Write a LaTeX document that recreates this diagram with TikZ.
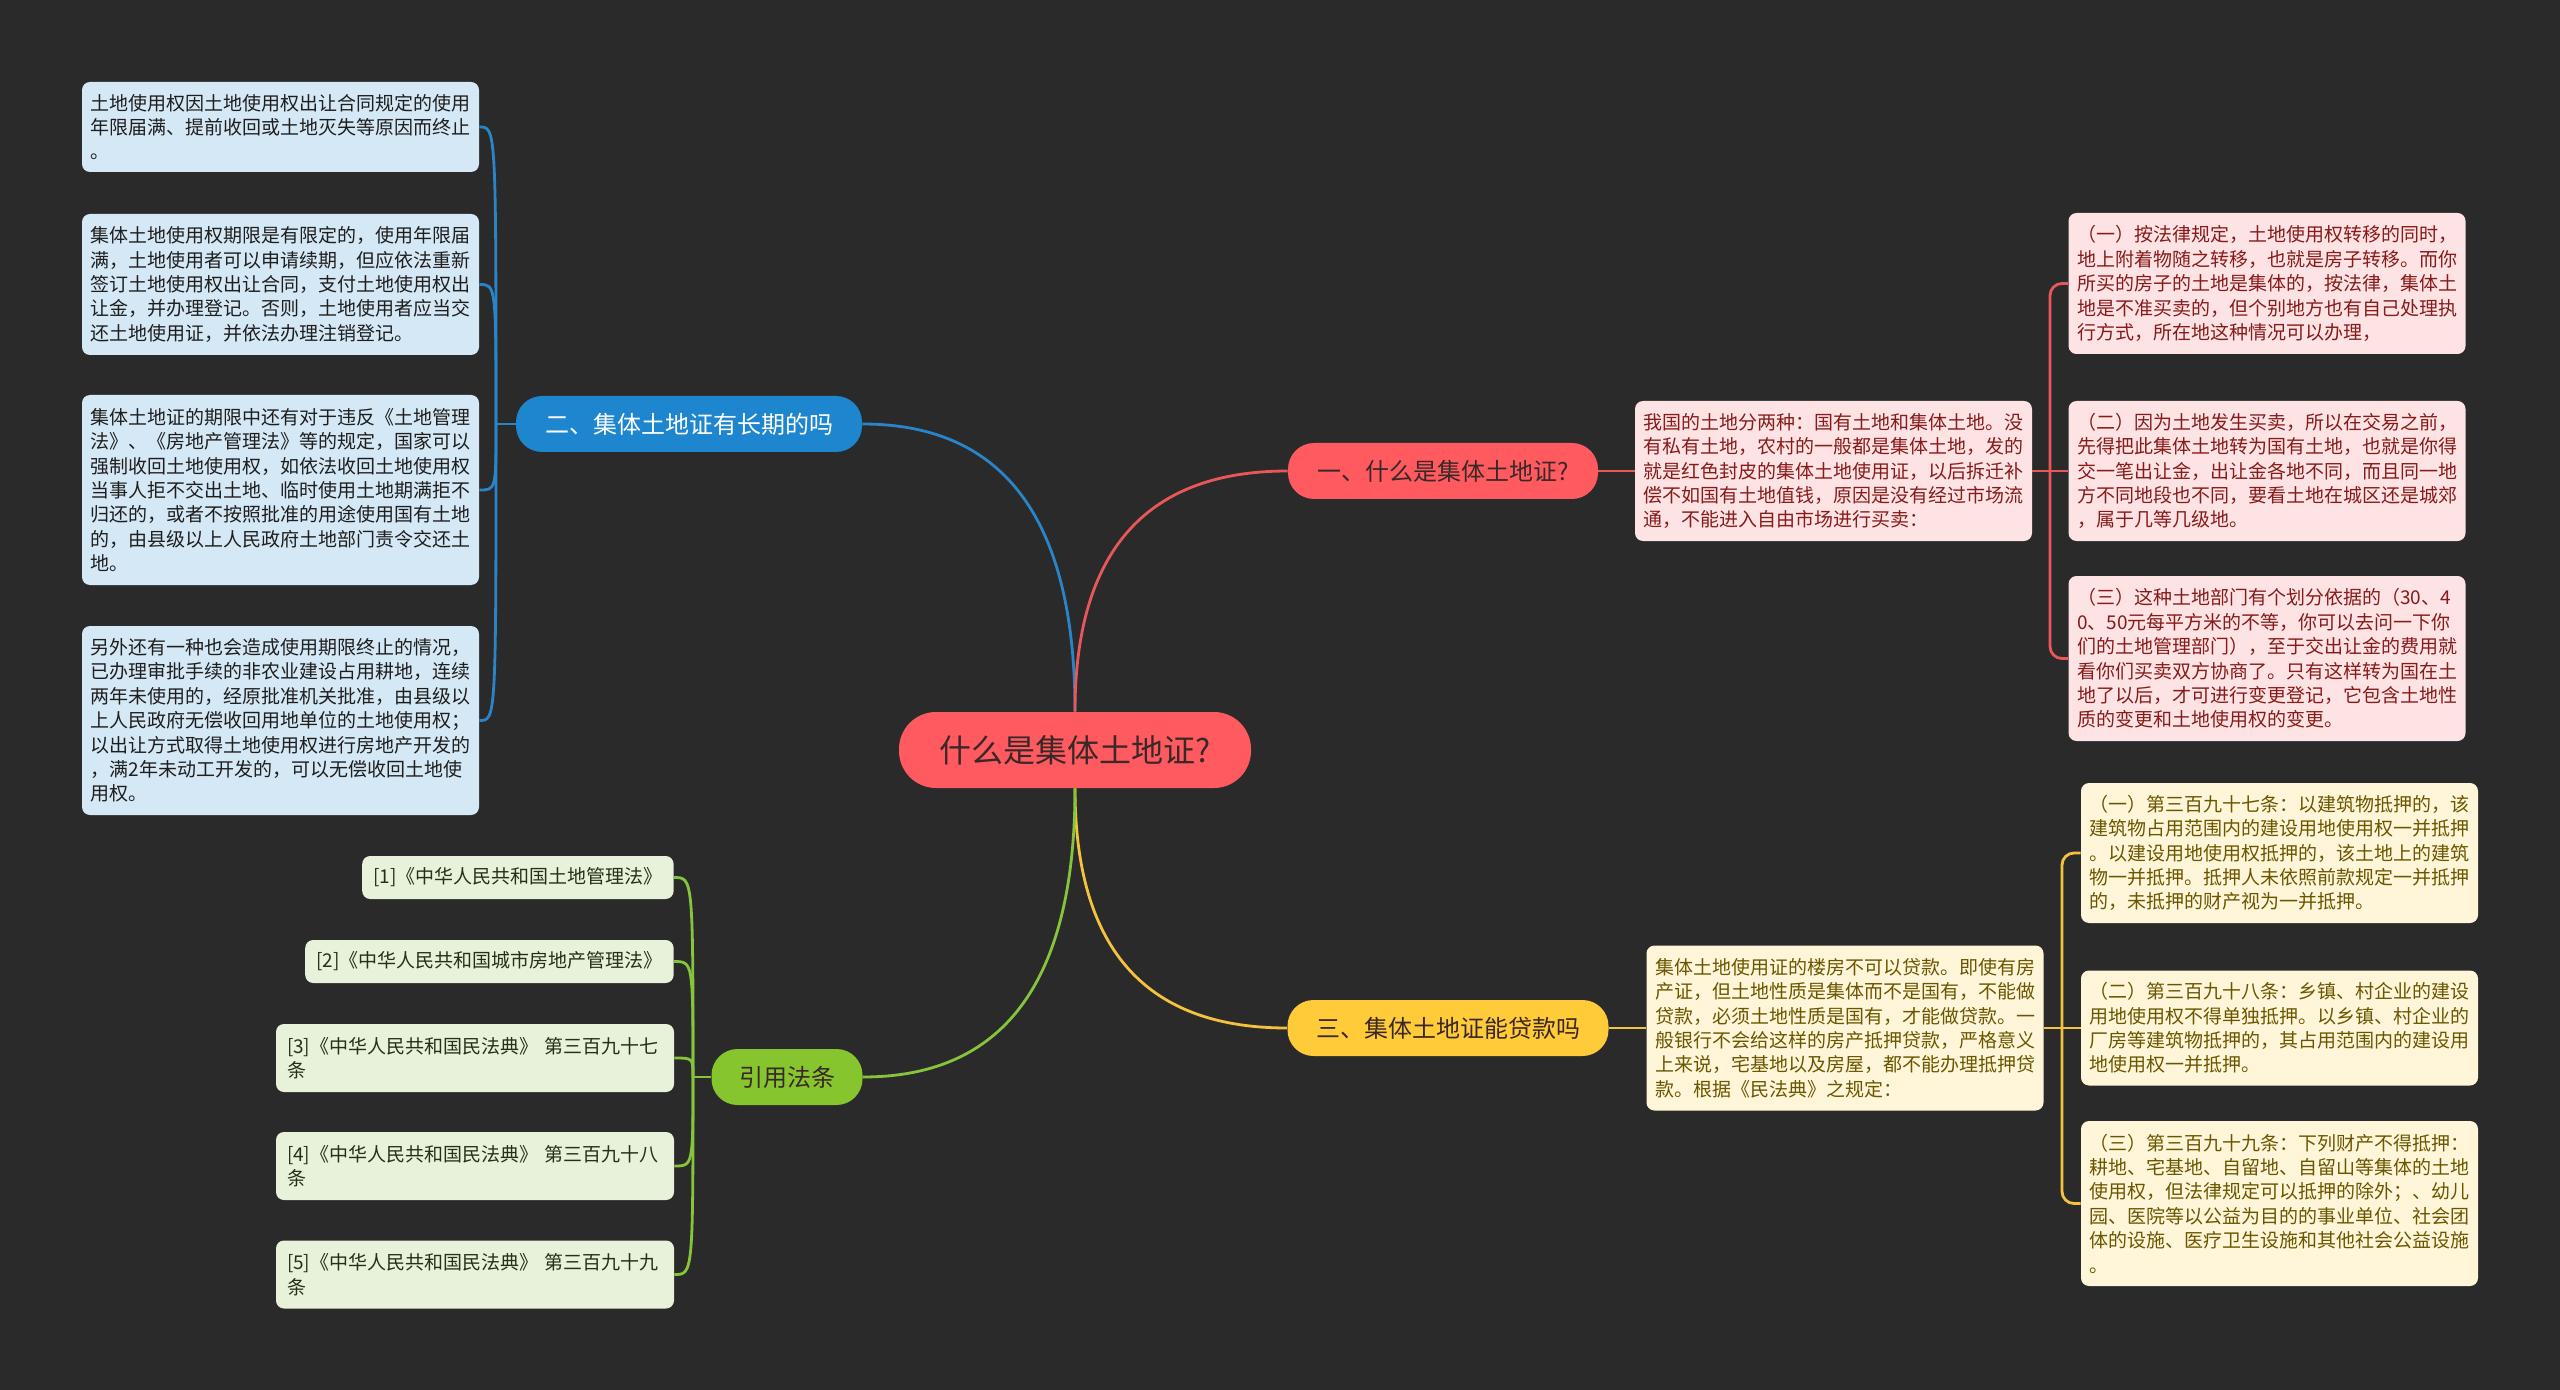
\documentclass[tikz,border=0pt]{standalone}
\usepackage{fontspec}
\setmainfont{Noto Sans CJK SC}
\usepackage{tikz}
\usepackage{xcolor}
\definecolor{bgcol}{HTML}{2A2A2A}
\definecolor{mainred}{HTML}{FF5A5F}
\definecolor{darktext}{HTML}{3A2828}
\definecolor{bluenode}{HTML}{1E86CF}
\definecolor{yellownode}{HTML}{FFCB38}
\definecolor{greennode}{HTML}{86C52E}
\definecolor{bluefill}{HTML}{D5E8F5}
\definecolor{bluetext}{HTML}{1E1E1E}
\definecolor{redfill}{HTML}{FDE3E3}
\definecolor{redtext}{HTML}{871B1B}
\definecolor{yellowfill}{HTML}{FFF6D9}
\definecolor{yellowtext}{HTML}{6B5600}
\definecolor{greenfill}{HTML}{E8F1D9}
\definecolor{greentext}{HTML}{24301A}
\definecolor{bluelinecol}{HTML}{2A84C8}
\definecolor{redlinecol}{HTML}{E9575B}
\definecolor{yellowlinecol}{HTML}{F4C23E}
\definecolor{greenlinecol}{HTML}{86C43C}
\tikzstyle{mainnode} = [rectangle, rounded corners=18.5pt,
fill=mainred, text=darktext,
minimum width=176pt, minimum height=38pt,
font=\fontsize{16}{19}\selectfont]
\tikzstyle{branch} = [rectangle, rounded corners=13pt,
minimum height=28pt,
font=\fontsize{12}{14}\selectfont]
\tikzstyle{leaf} = [rectangle, rounded corners=4pt,
align=left, inner ysep=2pt,
font=\fontsize{9.5}{12.2}\selectfont]
\tikzstyle{bluebox} = [leaf, fill=bluefill, text=bluetext, text width=190pt, inner xsep=4.25pt]
\tikzstyle{redbox} = [leaf, fill=redfill, text=redtext, text width=190pt, inner xsep=4.25pt]
\tikzstyle{yellowbox} = [leaf, fill=yellowfill, text=yellowtext, text width=190pt, inner xsep=4.25pt]
\tikzstyle{greenbox} = [leaf, fill=greenfill, text=greentext, inner xsep=5.5pt]
\tikzstyle{bluelink} = [draw=bluelinecol, line width=1.4pt]
\tikzstyle{redlink} = [draw=redlinecol, line width=1.4pt]
\tikzstyle{yellowlink} = [draw=yellowlinecol, line width=1.4pt]
\tikzstyle{greenlink} = [draw=greenlinecol, line width=1.4pt]

\begin{document}
\begin{tikzpicture}[x=0.5pt, y=-0.5pt]

        \fill[bgcol] (0,0) rectangle (2560,1390);

        % Nodos
        \node (c) [mainnode] at (1075,750) {什么是集体土地证?};
        \node (bt) [branch, fill=bluenode, text=white, minimum width=173pt] at (689,424) {二、集体土地证有长期的吗};
        \node (rt) [branch, fill=mainred, text=darktext, minimum width=155pt] at (1443,471) {一、什么是集体土地证?};
        \node (yt) [branch, fill=yellownode, text=darktext, minimum width=160.5pt] at (1448,1028) {三、集体土地证能贷款吗};
        \node (gt) [branch, fill=greennode, text=darktext, minimum width=75.5pt] at (787,1077) {引用法条};

        \node (b1) [bluebox, minimum height=45pt] at (280.5,127) {土地使用权因土地使用权出让合同规定的使用\\年限届满、提前收回或土地灭失等原因而终止\\。};
        \node (b2) [bluebox, minimum height=70.5pt] at (280.5,284.5) {集体土地使用权期限是有限定的，使用年限届\\满，土地使用者可以申请续期，但应依法重新\\签订土地使用权出让合同，支付土地使用权出\\让金，并办理登记。否则，土地使用者应当交\\还土地使用证，并依法办理注销登记。};
        \node (b3) [bluebox, minimum height=95pt] at (280.5,490) {集体土地证的期限中还有对于违反《土地管理\\法》、《房地产管理法》等的规定，国家可以\\强制收回土地使用权，如依法收回土地使用权\\当事人拒不交出土地、临时使用土地期满拒不\\归还的，或者不按照批准的用途使用国有土地\\的，由县级以上人民政府土地部门责令交还土\\地。};
        \node (b4) [bluebox, minimum height=94.5pt] at (280.5,720.5) {另外还有一种也会造成使用期限终止的情况，\\已办理审批手续的非农业建设占用耕地，连续\\两年未使用的，经原批准机关批准，由县级以\\上人民政府无偿收回用地单位的土地使用权；\\以出让方式取得土地使用权进行房地产开发的\\，满2年未动工开发的，可以无偿收回土地使\\用权。};

        \node (rd) [redbox, minimum height=70pt] at (1833.5,471) {我国的土地分两种：国有土地和集体土地。没\\有私有土地，农村的一般都是集体土地，发的\\就是红色封皮的集体土地使用证，以后拆迁补\\偿不如国有土地值钱，原因是没有经过市场流\\通，不能进入自由市场进行买卖：};
        \node (r1) [redbox, minimum height=70.5pt] at (2267,283.5) {（一）按法律规定，土地使用权转移的同时，\\地上附着物随之转移，也就是房子转移。而你\\所买的房子的土地是集体的，按法律，集体土\\地是不准买卖的，但个别地方也有自己处理执\\行方式，所在地这种情况可以办理，};
        \node (r2) [redbox, minimum height=70pt] at (2267,471) {（二）因为土地发生买卖，所以在交易之前，\\先得把此集体土地转为国有土地，也就是你得\\交一笔出让金，出让金各地不同，而且同一地\\方不同地段也不同，要看土地在城区还是城郊\\，属于几等几级地。};
        \node (r3) [redbox, minimum height=82.5pt] at (2267,658.5) {（三）这种土地部门有个划分依据的（30、4\\0、50元每平方米的不等，你可以去问一下你\\们的土地管理部门），至于交出让金的费用就\\看你们买卖双方协商了。只有这样转为国在土\\地了以后，才可进行变更登记，它包含土地性\\质的变更和土地使用权的变更。};

        \node (yd) [yellowbox, minimum height=82.5pt] at (1845,1028) {集体土地使用证的楼房不可以贷款。即使有房\\产证，但土地性质是集体而不是国有，不能做\\贷款，必须土地性质是国有，才能做贷款。一\\般银行不会给这样的房产抵押贷款，严格意义\\上来说，宅基地以及房屋，都不能办理抵押贷\\款。根据《民法典》之规定：};
        \node (y1) [yellowbox, minimum height=70pt] at (2279.5,853) {（一）第三百九十七条：以建筑物抵押的，该\\建筑物占用范围内的建设用地使用权一并抵押\\。以建设用地使用权抵押的，该土地上的建筑\\物一并抵押。抵押人未依照前款规定一并抵押\\的，未抵押的财产视为一并抵押。};
        \node (y2) [yellowbox, minimum height=57.5pt] at (2279.5,1028) {（二）第三百九十八条：乡镇、村企业的建设\\用地使用权不得单独抵押。以乡镇、村企业的\\厂房等建筑物抵押的，其占用范围内的建设用\\地使用权一并抵押。};
        \node (y3) [yellowbox, minimum height=82.5pt] at (2279.5,1203.5) {（三）第三百九十九条：下列财产不得抵押：\\耕地、宅基地、自留地、自留山等集体的土地\\使用权，但法律规定可以抵押的除外；、幼儿\\园、医院等以公益为目的的事业单位、社会团\\体的设施、医疗卫生设施和其他社会公益设施\\。};

        \node (g1) [greenbox, anchor=east, minimum height=21.5pt] at (674,877.5) {[1]《中华人民共和国土地管理法》};
        \node (g2) [greenbox, anchor=east, minimum height=21.5pt] at (674,961.5) {[2]《中华人民共和国城市房地产管理法》};
        \node (g3) [greenbox, text width=188pt, minimum height=34pt] at (475,1058) {[3]《中华人民共和国民法典》~第三百九十七\\条};
        \node (g4) [greenbox, text width=188pt, minimum height=34pt] at (475,1166) {[4]《中华人民共和国民法典》~第三百九十八\\条};
        \node (g5) [greenbox, text width=188pt, minimum height=34pt] at (475,1274.5) {[5]《中华人民共和国民法典》~第三百九十九\\条};

        \coordinate (bj) at (496,424);
        \coordinate (gj) at (693,1077);
        \coordinate (rj) at (2050,471);
        \coordinate (yj) at (2062,1028);

        % Conexiones
        \draw [bluelink] (c.north) .. controls +(0,-222) and +(118,0) .. (bt.east);
        \draw [redlink] (c.north) .. controls +(0,-185) and +(-118,0) .. (rt.west);
        \draw [yellowlink] (c.south) .. controls +(0,185) and +(-118,0) .. (yt.west);
        \draw [greenlink] (c.south) .. controls +(0,222) and +(118,0) .. (gt.east);

        \draw [bluelink] (bt.west) -- (bj);
        \foreach \n in {b1,b2,b3,b4}
            \draw [bluelink] (bj) .. controls (bj |- \n.east) .. (\n.east);

        \draw [greenlink] (gt.west) -- (gj);
        \foreach \n in {g1,g2,g3,g4,g5}
            \draw [greenlink] (gj) .. controls (gj |- \n.east) .. (\n.east);

        \draw [redlink] (rt.east) -- (rd.west);
        \draw [redlink] (rd.east) -- (r2.west);
        \draw [redlink, rounded corners=6pt] (rj) |- (r1.west);
        \draw [redlink, rounded corners=6pt] (rj) |- (r3.west);

        \draw [yellowlink] (yt.east) -- (yd.west);
        \draw [yellowlink] (yd.east) -- (y2.west);
        \draw [yellowlink, rounded corners=6pt] (yj) |- (y1.west);
        \draw [yellowlink, rounded corners=6pt] (yj) |- (y3.west);

    \end{tikzpicture}
\end{document}
